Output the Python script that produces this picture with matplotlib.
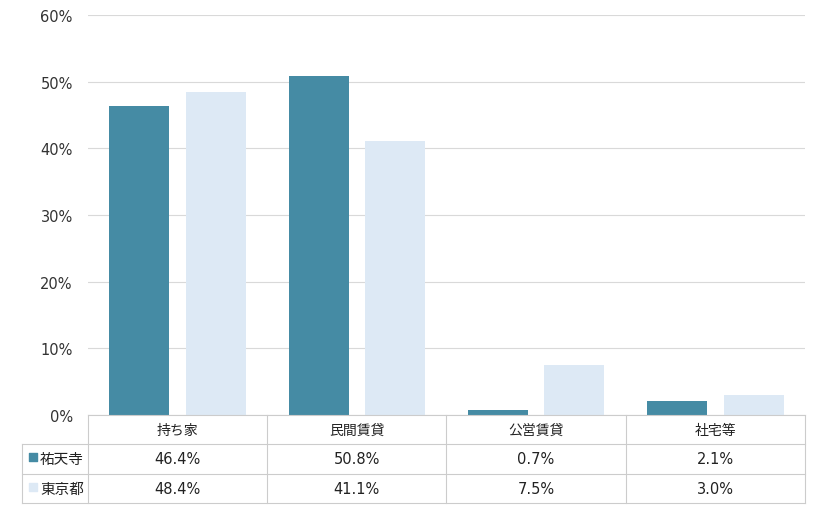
import matplotlib.pyplot as plt
import numpy as np

plt.rcParams['font.family'] = ['DejaVu Sans', 'Noto Sans CJK JP']

# Data
categories = ['持ち家', '民間賃貸', '公営賃貸', '社宅等']
series_names = ['祐天寺', '東京都']
yutenji = [46.4, 50.8, 0.7, 2.1]
tokyo = [48.4, 41.1, 7.5, 3.0]
colors = ['#458ba4', '#dde9f5']

W, H = 820, 510
fig = plt.figure(figsize=(W / 100, H / 100), dpi=100)

# plot area in pixels
left, right, top, base = 88, 805, 16, 416
row_h = 29.3
ax = fig.add_axes([left / W, (H - base) / H, (right - left) / W, (base - top) / H])

x = np.arange(len(categories)) + 0.5
bw = 0.335
off = 0.213
ax.bar(x - off, yutenji, bw, color=colors[0], zorder=3)
ax.bar(x + off, tokyo, bw, color=colors[1], zorder=3)

ax.set_xlim(0, len(categories))
ax.set_ylim(0, 60)
ax.set_yticks(range(0, 61, 10))
ax.set_yticklabels([f'{v}%' for v in range(0, 61, 10)], fontsize=10.5, color='#333333')
ax.set_xticks([])
ax.grid(axis='y', color='#d9d9d9', linewidth=0.8, zorder=0)
for s in ax.spines.values():
    s.set_visible(False)
ax.tick_params(axis='y', length=0, pad=11)

# data table below the plot
tab_bottom = base + 3 * row_h
tax = fig.add_axes([left / W, (H - tab_bottom) / H, (right - left) / W, 3 * row_h / H], sharex=ax)
tax.set_ylim(3, 0)
tax.axis('off')
lab_w = (left - 22) / ((right - left) / len(categories))  # label column width in category units
n = len(categories)
lc = '#cccccc'
kw = dict(color=lc, linewidth=0.8, clip_on=False)
tax.plot([0, n], [0, 0], **kw)
for r in [1, 2, 3]:
    tax.plot([-lab_w, n], [r, r], **kw)
for c in range(n + 1):
    tax.plot([c, c], [0, 3], **kw)
tax.plot([-lab_w, -lab_w], [1, 3], **kw)

for i, cat in enumerate(categories):
    tax.text(i + 0.5, 0.5, cat, ha='center', va='center', fontsize=10, color='#222222')
for r, (name, vals, col) in enumerate(zip(series_names, [yutenji, tokyo], colors), start=1):
    for i, v in enumerate(vals):
        tax.text(i + 0.5, r + 0.5, f'{v:.1f}%', ha='center', va='center', fontsize=10.5, color='#222222')
    tax.scatter([-lab_w + 0.06], [r + 0.45], marker='s', s=40, color=col, clip_on=False)
    tax.text(-lab_w + 0.1, r + 0.5, name, ha='left', va='center', fontsize=10.5, color='#222222')

fig.savefig('out.png', dpi=100)
